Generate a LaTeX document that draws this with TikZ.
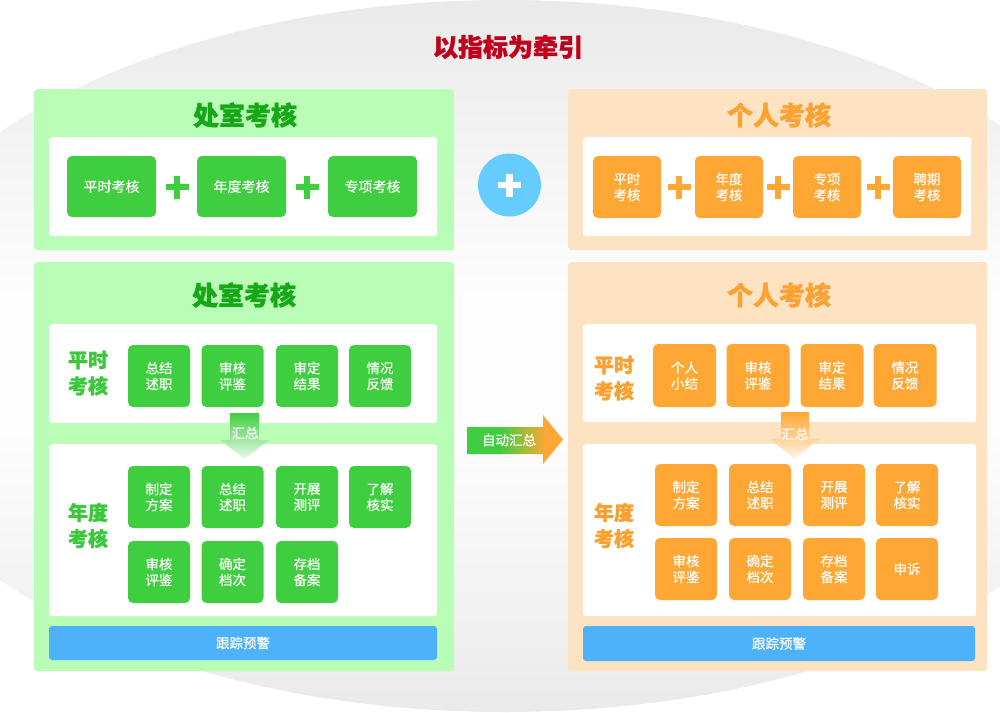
\documentclass[tikz,border=0pt]{standalone}
\usepackage{fontspec}
\newfontfamily\cjk[BoldFeatures={FakeBold=1.2}]{Noto Sans CJK SC}
\newfontfamily\cjkm[FakeBold=0.4]{Noto Sans CJK SC}
\definecolor{panelg}{RGB}{186,253,182}
\definecolor{panelo}{RGB}{253,227,193}
\definecolor{boxg}{RGB}{63,206,63}
\definecolor{boxo}{RGB}{255,167,52}
\definecolor{titleg}{RGB}{22,168,22}
\definecolor{titleo}{RGB}{250,163,51}
\definecolor{labg}{RGB}{60,200,60}
\definecolor{labo}{RGB}{249,160,48}
\definecolor{barblue}{RGB}{78,178,250}
\definecolor{circblue}{RGB}{102,204,255}
\definecolor{titlered}{RGB}{192,0,26}
\definecolor{bgtop}{RGB}{234,234,234}
\definecolor{bgmid}{RGB}{245,245,245}
\definecolor{bgwhite}{RGB}{253,253,253}
\pgfdeclarehorizontalshading{greenorange}{100bp}{color(0bp)=(boxg); color(42bp)=(boxg); color(66bp)=(boxo); color(100bp)=(boxo)}
\pgfdeclareverticalshading{bgshade}{100bp}{color(0bp)=(bgtop); color(25bp)=(bgtop); color(36bp)=(bgmid); color(45bp)=(bgwhite); color(54bp)=(bgwhite); color(63bp)=(bgmid); color(75bp)=(bgtop); color(100bp)=(bgtop)}
\newcommand\mkplus[3]{%
  \fill[#3] (#1-11.5,#2-3.25) rectangle (#1+11.5,#2+3.25);
  \fill[#3] (#1-3.25,#2-11.5) rectangle (#1+3.25,#2+11.5);}
\begin{document}
\begin{tikzpicture}[x=1pt,y=-1pt,
  gpanel/.style={fill=panelg, rounded corners=3pt, anchor=north west, inner sep=0},
  opanel/.style={fill=panelo, rounded corners=3pt, anchor=north west, inner sep=0},
  wpanel/.style={fill=white, rounded corners=3pt, anchor=north west, inner sep=0},
  ptitle/.style={font=\cjk\bfseries\fontsize{26}{26}\selectfont, inner sep=0},
  lab/.style={font=\cjk\bfseries\fontsize{20}{26}\selectfont, align=center, inner sep=0},
  btxt/.style={font=\cjkm\fontsize{13.5}{16}\selectfont, text=white, align=center, inner sep=0},
  gbox/.style={btxt, fill=boxg, rounded corners=5pt, minimum width=62, minimum height=62},
  obox/.style={btxt, fill=boxo, rounded corners=5pt, minimum width=62, minimum height=62},
  bar/.style={btxt, fill=barblue, rounded corners=3pt, minimum height=34}
]
\useasboundingbox (0,0) rectangle (1000,712);
\begin{scope}
  \clip (0,0) rectangle (1000,712);
  \shade[shading=bgshade] (505,356) ellipse [x radius=650, y radius=356];
\end{scope}

\node[font=\cjk\bfseries\fontsize{25}{25}\selectfont, text=titlered, inner sep=0] (title) at (508,47) {以指标为牵引};

% ---------- top left ----------
\node[gpanel, minimum width=420, minimum height=161] (LT) at (34,89) {};
\node[ptitle, text=titleg] (LTt) at (245,115) {处室考核};
\node[wpanel, minimum width=388, minimum height=99] (LTw) at (49,137) {};
\node[gbox, minimum width=89, minimum height=61, font=\cjkm\fontsize{14}{16}\selectfont] (LTa) at (111.5,186.5) {平时考核};
\node[gbox, minimum width=89, minimum height=61, font=\cjkm\fontsize{14}{16}\selectfont] (LTb) at (241.5,186.5) {年度考核};
\node[gbox, minimum width=89, minimum height=61, font=\cjkm\fontsize{14}{16}\selectfont] (LTc) at (372.5,186.5) {专项考核};
\mkplus{177}{187}{boxg}
\mkplus{307}{187}{boxg}

% ---------- circle plus ----------
\node[circle, fill=circblue, minimum size=63, inner sep=0] (cp) at (509.5,185) {};
\mkplus{509.5}{185}{white}

% ---------- top right ----------
\node[opanel, minimum width=419, minimum height=161] (RT) at (568,89) {};
\node[ptitle, text=titleo] (RTt) at (779,115) {个人考核};
\node[wpanel, minimum width=388, minimum height=99] (RTw) at (583,137) {};
\node[obox, minimum width=68] (RTa) at (627,187) {平时\\考核};
\node[obox, minimum width=68] (RTb) at (729,187) {年度\\考核};
\node[obox, minimum width=68] (RTc) at (827,187) {专项\\考核};
\node[obox, minimum width=68] (RTd) at (927,187) {聘期\\考核};
\mkplus{679}{187}{boxo}
\mkplus{778}{187}{boxo}
\mkplus{878}{187}{boxo}

% ---------- bottom left ----------
\node[gpanel, minimum width=420, minimum height=409] (LB) at (34,262) {};
\node[ptitle, text=titleg] (LBt) at (244,295) {处室考核};
\node[wpanel, minimum width=388, minimum height=99] (LBw1) at (49,324) {};
\node[wpanel, minimum width=388, minimum height=172] (LBw2) at (49,444) {};
\node[lab, text=labg] (LBl1) at (88,373) {平时\\考核};
\node[lab, text=labg] (LBl2) at (88,525.5) {年度\\考核};
\node[gbox] (L1a) at (159,376) {总结\\述职};
\node[gbox] (L1b) at (232.5,376) {审核\\评鉴};
\node[gbox] (L1c) at (307,376) {审定\\结果};
\node[gbox] (L1d) at (380,376) {情况\\反馈};
\node[gbox] (L2a) at (159,497) {制定\\方案};
\node[gbox] (L2b) at (232.5,497) {总结\\述职};
\node[gbox] (L2c) at (307,497) {开展\\测评};
\node[gbox] (L2d) at (380,497) {了解\\核实};
\node[gbox] (L3a) at (159,572) {审核\\评鉴};
\node[gbox] (L3b) at (232.5,572) {确定\\档次};
\node[gbox] (L3c) at (307,572) {存档\\备案};
\shade[top color=boxg, bottom color=boxg!10] (230,413) -- (259,413) -- (259,440) -- (269,440) -- (244.5,459) -- (220,440) -- (230,440) -- cycle;
\node[btxt] (LBs) at (245,433) {汇总};
\node[bar, minimum width=388] (LBbar) at (243,643) {跟踪预警};

% ---------- middle arrow ----------
\shade[shading=greenorange] (467,427) -- (543,427) -- (543,415) -- (563,439.5) -- (543,464) -- (543,454) -- (467,454) -- cycle;
\node[btxt] (mid) at (509,440) {自动汇总};

% ---------- bottom right ----------
\node[opanel, minimum width=419, minimum height=409] (RB) at (568,262) {};
\node[ptitle, text=titleo] (RBt) at (779,295) {个人考核};
\node[wpanel, minimum width=393, minimum height=98] (RBw1) at (583,324) {};
\node[wpanel, minimum width=393, minimum height=172] (RBw2) at (583,444) {};
\node[lab, text=labo] (RBl1) at (614,378) {平时\\考核};
\node[lab, text=labo] (RBl2) at (614,525.5) {年度\\考核};
\node[obox, minimum size=63] (R1a) at (684.5,375.5) {个人\\小结};
\node[obox, minimum size=63] (R1b) at (758,375.5) {审核\\评鉴};
\node[obox, minimum size=63] (R1c) at (832,375.5) {审定\\结果};
\node[obox, minimum size=63] (R1d) at (905,375.5) {情况\\反馈};
\node[obox] (R2a) at (686,495) {制定\\方案};
\node[obox] (R2b) at (760,495) {总结\\述职};
\node[obox] (R2c) at (834,495) {开展\\测评};
\node[obox] (R2d) at (907,495) {了解\\核实};
\node[obox] (R3a) at (686,569) {审核\\评鉴};
\node[obox] (R3b) at (760,569) {确定\\档次};
\node[obox] (R3c) at (834,569) {存档\\备案};
\node[obox] (R3d) at (907,569) {申诉};
\shade[top color=boxo, bottom color=boxo!12] (781,412) -- (809,412) -- (809,439) -- (819,439) -- (794.5,459) -- (770,439) -- (781,439) -- cycle;
\node[btxt] (RBs) at (795,434) {汇总};
\node[bar, minimum width=392, minimum height=35] (RBbar) at (779,643.5) {跟踪预警};
\end{tikzpicture}
\end{document}
